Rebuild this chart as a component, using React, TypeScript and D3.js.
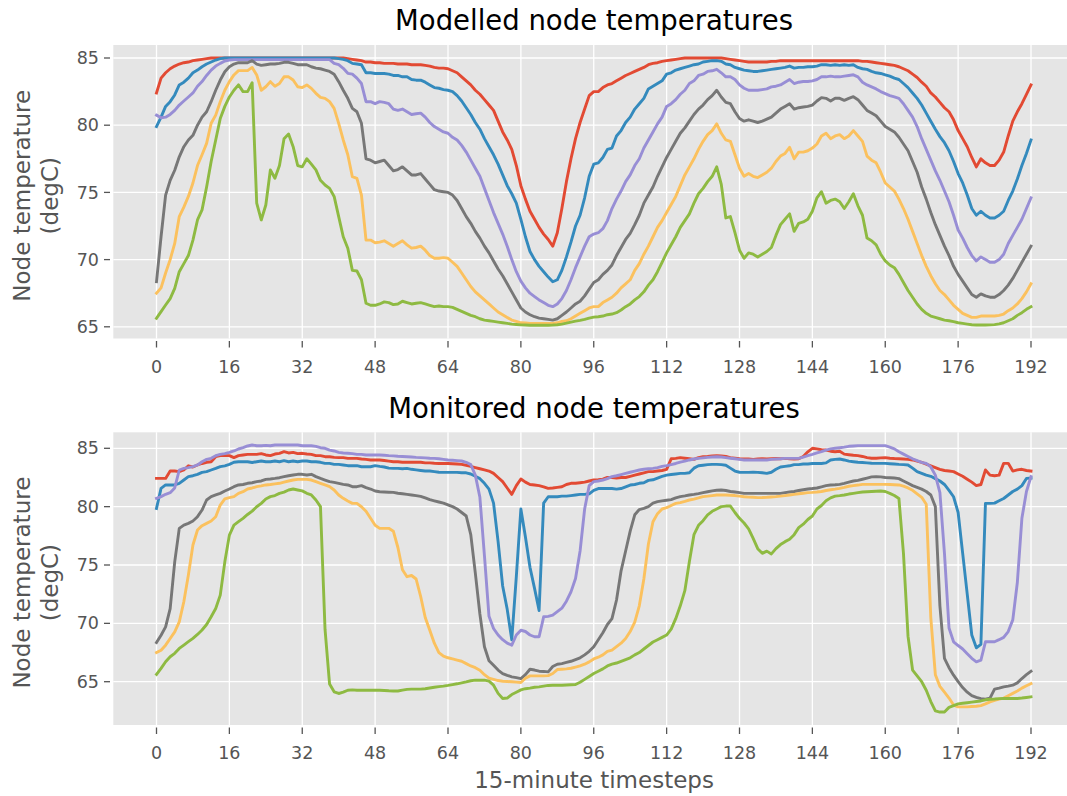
import React from "react";
import * as d3 from "d3";

// ---------- data ----------
const xTickValues = [0, 16, 32, 48, 64, 80, 96, 112, 128, 144, 160, 176, 192];
const yTickValues = [65, 70, 75, 80, 85];
const seriesColors = ["#E24A33", "#348ABD", "#988ED5", "#777777", "#FBC15E", "#8EBA42"];
const panelTitles = ["Modelled node temperatures", "Monitored node temperatures"];
const yLabelLines = ["Node temperature", "(degC)"];
const xLabelText = "15-minute timesteps";

// Modelled (top panel)
const modelledRed = [
  82.4, 83.5, 83.9, 84.2, 84.4, 84.55, 84.65, 84.7, 84.8, 84.85,
  84.9, 84.95, 85, 85, 85, 85, 85, 85, 85, 85,
  85, 85, 85, 85, 85, 85, 85, 85, 85, 85,
  85, 85, 85, 85, 85, 85, 85, 85, 85, 85,
  85, 85, 84.95, 84.9, 84.85, 84.8, 84.7, 84.7, 84.65, 84.65,
  84.6, 84.6, 84.6, 84.55, 84.55, 84.55, 84.5, 84.5, 84.5, 84.45,
  84.4, 84.3, 84.25, 84.25, 84.2, 84.05, 83.9, 83.6, 83.3, 83.0,
  82.6, 82.3, 81.9, 81.5, 81.1, 80.3, 79.5, 78.9, 78.2, 77.0,
  75.5, 74.5, 73.6, 73.0, 72.4, 71.9, 71.5, 71.0, 72.0, 73.8,
  75.8, 77.5, 79.0, 80.2, 81.2, 82.2, 82.5, 82.5, 82.8, 83.0,
  83.1, 83.3, 83.5, 83.7, 83.85, 84.0, 84.15, 84.3, 84.5, 84.6,
  84.65, 84.75, 84.8, 84.85, 84.9, 84.95, 85, 85, 85, 85,
  85, 85, 85, 85, 85, 84.95, 84.9, 84.85, 84.8, 84.75,
  84.7, 84.7, 84.7, 84.7, 84.7, 84.75, 84.75, 84.8, 84.8, 84.8,
  84.8, 84.8, 84.8, 84.8, 84.8, 84.8, 84.8, 84.8, 84.8, 84.8,
  84.8, 84.8, 84.8, 84.8, 84.8, 84.75, 84.75, 84.7, 84.65, 84.6,
  84.55, 84.5, 84.45, 84.35, 84.2, 84.05, 83.8, 83.55, 83.2, 82.9,
  82.4, 82.1, 81.7, 81.3, 81.0, 80.4, 79.6, 79.0, 78.4, 77.6,
  76.9, 77.5, 77.2, 77.0, 77.0, 77.4, 78.0, 79.2, 80.3, 81.0,
  81.6, 82.3, 83.0,
];
const modelledBlue = [
  79.9, 80.6, 81.4, 81.75, 82.25, 83.0, 83.2, 83.5, 83.9, 84.1,
  84.35, 84.55, 84.7, 84.85, 84.95, 85, 85, 85, 85, 85,
  85, 85, 85, 85, 85, 85, 85, 85, 85, 85,
  85, 85, 85, 85, 85, 85, 85, 85, 85, 85,
  84.95, 84.9, 84.8, 84.6, 84.55, 84.5, 83.9, 83.9, 83.85, 83.85,
  83.85, 83.8, 83.7, 83.7, 83.6, 83.6, 83.4, 83.35, 83.35, 83.2,
  83.0, 82.8, 82.75, 82.65, 82.6, 82.5, 82.2, 81.8, 81.3, 80.8,
  80.2, 79.7, 79.0, 78.4, 77.8, 77.1, 76.3, 75.5, 74.9, 74.2,
  73.0, 71.7, 70.6, 70.0, 69.5, 69.1, 68.7, 68.35, 68.5, 69.2,
  70.2, 71.3, 72.5, 73.3, 74.6, 76.2, 77.1, 77.2, 77.6, 78.2,
  78.3, 79.2, 79.6, 80.2, 80.6, 81.2, 81.6, 82.0, 82.7, 82.9,
  83.1, 83.3, 83.8, 83.9, 84.1, 84.2, 84.3, 84.4, 84.5, 84.55,
  84.7, 84.75, 84.8, 84.8, 84.75, 84.55, 84.5, 84.3, 84.2, 84.1,
  84.05, 84.0, 84.0, 84.05, 84.1, 84.15, 84.2, 84.25, 84.3, 84.4,
  84.25, 84.3, 84.3, 84.35, 84.35, 84.4, 84.5, 84.5, 84.45, 84.5,
  84.45, 84.5, 84.45, 84.5, 84.3, 84.2, 84.15, 84.0, 83.9, 83.85,
  83.75, 83.65, 83.5, 83.4, 83.1, 82.8, 82.4, 82.0, 81.5, 80.9,
  80.3, 79.7, 79.15, 78.7, 78.1, 77.3, 76.4, 75.7, 74.8, 73.8,
  73.3, 73.6, 73.3, 73.1, 73.1, 73.3, 73.6, 74.4, 75.1, 76.0,
  77.0, 77.9, 78.9,
];
const modelledPurple = [
  80.75, 80.55, 80.6, 80.8, 81.1, 81.5, 81.8, 82.1, 82.4, 82.9,
  83.25, 83.7, 84.1, 84.4, 84.6, 84.78, 84.85, 84.88, 84.88, 84.88,
  84.88, 84.88, 84.88, 84.88, 84.88, 84.88, 84.88, 84.88, 84.88, 84.88,
  84.88, 84.88, 84.88, 84.88, 84.88, 84.88, 84.88, 84.88, 84.88, 84.6,
  84.5, 84.23, 83.86, 83.8, 83.5, 83.1, 81.75, 81.75, 81.6, 81.75,
  81.7, 81.6, 81.2, 81.1, 81.2, 81.0, 80.8, 80.85, 80.9, 80.6,
  80.2, 79.9, 79.7, 79.5, 79.4, 79.1, 78.9, 78.5, 78.0, 77.4,
  76.8, 76.2, 75.3, 74.4, 73.5, 72.7, 71.9, 71.0, 70.0, 69.1,
  68.4, 67.9, 67.5, 67.25, 67.0, 66.8, 66.6, 66.5, 66.7, 67.1,
  67.7, 68.5, 69.4, 70.2, 71.0, 71.7, 71.9, 72.0, 72.3, 72.9,
  73.8, 74.5, 75.1, 75.8, 76.3, 77.0, 77.5, 78.3, 78.9, 79.5,
  80.1, 80.6, 81.4, 81.6, 81.9, 82.3, 82.6, 83.1, 83.3, 83.7,
  83.8, 84.0, 84.05, 84.16, 83.9, 83.6, 83.6, 83.4, 83.0, 82.75,
  82.6, 82.6, 82.6, 82.65, 82.7, 82.85, 82.9, 83.0, 83.2, 83.4,
  83.1, 83.2, 83.25, 83.25, 83.3, 83.4, 83.6, 83.6, 83.65, 83.6,
  83.6, 83.65, 83.7, 83.75, 83.6, 83.2, 83.0, 82.85, 82.7, 82.5,
  82.35, 82.2, 82.1, 82.0, 81.6, 81.1, 80.6, 79.9, 79.0, 78.2,
  77.4, 76.6, 75.9, 75.1, 74.3, 73.3, 72.2, 71.6, 70.9, 70.3,
  69.9, 70.2, 70.0, 69.8, 69.8, 70.0, 70.4, 71.2, 71.8, 72.4,
  73.0, 73.8, 74.6,
];
const modelledGray = [
  68.35, 71.7, 74.8, 75.9, 76.65, 77.65, 78.4, 78.9, 79.25, 80.0,
  80.6, 81.0, 81.75, 82.6, 83.36, 83.98, 84.35, 84.55, 84.65, 84.65,
  84.65, 84.8, 84.55, 84.45, 84.5, 84.55, 84.55, 84.6, 84.68, 84.68,
  84.6, 84.5, 84.5, 84.5, 84.35, 84.25, 84.2, 84.1, 84.0, 83.8,
  83.24, 82.6, 82.0, 81.25, 81.0, 80.14, 77.5, 77.4, 77.2, 77.3,
  77.4, 77.0, 76.6, 76.7, 76.9, 76.6, 76.3, 76.3, 76.4, 76.0,
  75.6, 75.2, 75.1, 75.05, 75.0, 74.8, 74.4, 73.8, 73.2, 72.7,
  72.1, 71.6, 71.0, 70.5, 69.9, 69.3, 68.8, 68.2, 67.6, 67.0,
  66.4, 66.1, 65.9, 65.75, 65.65, 65.6, 65.55, 65.5, 65.6, 65.85,
  66.1, 66.4, 66.7, 66.9, 67.3, 67.8, 68.3, 68.5, 68.9, 69.2,
  69.6, 70.3, 70.9, 71.5, 71.95, 72.6, 73.3, 74.2, 74.8, 75.4,
  76.2, 76.9, 77.6, 78.2, 78.8, 79.4, 79.8, 80.3, 80.8, 81.2,
  81.5, 81.9, 82.2, 82.6, 82.1, 81.7, 81.6, 81.0, 80.5, 80.3,
  80.4, 80.3, 80.2, 80.3, 80.45, 80.6, 80.9, 81.2, 81.4, 81.6,
  81.2, 81.3, 81.35, 81.4, 81.5, 81.8, 82.05, 82.0, 81.8, 82.0,
  82.0, 81.85, 82.0, 82.12, 81.9, 81.5, 81.1, 80.9, 80.7, 80.3,
  79.9, 79.7, 79.5, 79.1, 78.6, 78.1, 77.3, 76.5, 75.4, 74.5,
  73.5, 72.6, 71.8, 71.0, 70.3, 69.5, 68.9, 68.4, 67.9, 67.4,
  67.2, 67.45, 67.3, 67.2, 67.2, 67.4, 67.7, 68.1, 68.6, 69.2,
  69.8, 70.4, 71.0,
];
const modelledYellow = [
  67.5, 67.9, 69.0, 70.0, 71.2, 73.2, 73.9, 74.7, 75.7, 77.0,
  77.8, 78.65, 80.14, 80.75, 81.75, 82.6, 83.24, 83.74, 84.06, 84.06,
  84.06, 84.3, 83.74, 82.6, 82.86, 83.24, 82.9, 83.1, 83.6, 83.6,
  83.36, 82.86, 82.8, 83.0, 82.74, 82.37, 82.07, 82.0, 81.75, 81.25,
  80.14, 78.9, 77.8, 76.17, 76.05, 74.8, 71.45, 71.45, 71.25, 71.3,
  71.4, 71.2, 71.0, 71.2, 71.4, 71.1, 70.85, 70.9, 71.0, 70.7,
  70.3, 70.1, 70.1, 70.15, 70.1, 69.8, 69.5, 69.0, 68.5, 68.0,
  67.6, 67.3, 67.0, 66.7, 66.4, 66.1, 65.9, 65.7, 65.5, 65.4,
  65.3, 65.28, 65.25, 65.25, 65.25, 65.25, 65.25, 65.25, 65.3, 65.4,
  65.45, 65.6, 65.8, 66.0, 66.2, 66.4, 66.5, 66.5, 66.8, 67.0,
  67.2, 67.5, 67.9, 68.2, 68.5, 69.2, 69.7, 70.4, 71.0, 71.7,
  72.4, 72.9, 73.5, 74.1, 74.7, 75.5, 76.3, 76.9, 77.5, 78.2,
  78.8, 79.3, 79.6, 80.1, 79.4, 78.9, 78.8, 77.8, 76.8, 76.2,
  76.4, 76.2, 76.1, 76.3, 76.5, 76.8, 77.3, 77.7, 77.9, 78.35,
  77.5, 78.0, 78.0, 78.1, 78.3, 78.6, 79.2, 79.4, 79.0, 79.2,
  79.3, 79.0, 79.2, 79.6, 79.2, 78.8, 77.7, 77.4, 77.2, 76.5,
  75.7, 75.4, 75.1, 74.5, 73.8, 73.0, 72.1, 71.2, 70.3, 69.5,
  68.8, 68.2, 67.7, 67.4, 67.0, 66.6, 66.3, 66.0, 65.85, 65.7,
  65.7, 65.8, 65.8, 65.8, 65.8, 65.85, 65.95, 66.2, 66.4, 66.7,
  67.1, 67.6, 68.2,
];
const modelledGreen = [
  65.63, 66.13, 66.62, 67.1, 67.86, 69.1, 69.7, 70.3, 71.45, 72.95,
  73.7, 75.4, 77.3, 78.9, 80.5, 81.4, 82.1, 82.6, 83.0, 82.5,
  82.5, 83.16, 74.2, 72.95, 74.06, 76.67, 76.05, 77.0, 79.0, 79.35,
  78.4, 77.0, 76.9, 77.5, 77.1, 76.67, 75.9, 75.55, 75.3, 74.7,
  73.2, 71.7, 70.85, 69.2, 69.15, 68.5, 66.75, 66.6, 66.6, 66.7,
  66.85, 66.8, 66.65, 66.7, 66.9, 66.8, 66.7, 66.75, 66.8, 66.7,
  66.6, 66.5, 66.55, 66.5, 66.5, 66.45, 66.3, 66.15, 66.0, 65.85,
  65.75, 65.6, 65.5, 65.45, 65.4, 65.35, 65.3, 65.25, 65.2, 65.17,
  65.14, 65.13, 65.12, 65.12, 65.12, 65.12, 65.12, 65.13, 65.15, 65.2,
  65.27, 65.35, 65.42, 65.48, 65.55, 65.65, 65.72, 65.75, 65.8, 65.9,
  65.95, 66.05, 66.25, 66.5, 66.7, 67.0, 67.25, 67.6, 68.1, 68.5,
  69.1, 69.8, 70.5, 71.1, 71.7, 72.4, 72.9, 73.4, 74.2, 74.9,
  75.3, 75.8, 76.2, 76.9, 75.6, 73.1, 73.2, 72.0, 70.7, 70.1,
  70.5, 70.4, 70.2, 70.4, 70.6, 70.9, 71.8, 72.6, 73.0, 73.4,
  72.1, 72.7, 72.8, 73.0, 73.6, 74.6, 75.05, 74.2, 74.4, 74.5,
  74.3, 73.8, 74.3, 74.9, 74.0, 73.3, 71.6, 71.4, 71.1, 70.4,
  69.9, 69.6, 69.4, 68.9, 68.3, 67.7, 67.2, 66.7, 66.3, 66.0,
  65.8, 65.7, 65.6, 65.5, 65.45, 65.38, 65.3, 65.25, 65.2, 65.15,
  65.13, 65.13, 65.13, 65.14, 65.16, 65.22, 65.3, 65.45, 65.6, 65.85,
  66.05, 66.3, 66.5,
];

// Monitored (bottom panel)
const monitoredRed = [
  82.42, 82.42, 82.42, 83.05, 83.05, 83.0, 83.14, 83.5, 83.4, 83.57,
  83.7, 83.8, 83.85, 84.28, 84.37, 84.37, 84.37, 84.2, 84.37, 84.43,
  84.48, 84.48, 84.48, 84.54, 84.43, 84.37, 84.51, 84.57, 84.71, 84.6,
  84.65, 84.54, 84.57, 84.51, 84.48, 84.37, 84.37, 84.28, 84.28, 84.22,
  84.2, 84.2, 84.14, 84.14, 84.14, 84.08, 84.05, 84.0, 84.0, 84.0,
  83.95, 83.9, 83.85, 83.85, 83.8, 83.8, 83.8, 83.8, 83.8, 83.75,
  83.75, 83.72, 83.7, 83.7, 83.7, 83.68, 83.65, 83.62, 83.55, 83.45,
  83.35, 83.25, 83.15, 83.05, 82.85, 82.5, 82.14, 81.6, 81.05, 81.8,
  82.37, 82.1, 81.9, 81.85, 81.8, 81.7, 81.57, 81.6, 81.65, 81.7,
  81.9, 82.0, 82.0, 82.05, 82.1, 82.2, 82.28, 82.3, 82.35, 82.5,
  82.5, 82.45, 82.5, 82.5, 82.6, 82.7, 82.8, 82.9, 83.0, 83.0,
  83.05, 83.1, 83.2, 84.1, 84.14, 84.2, 84.15, 84.1, 84.05, 84.2,
  84.28, 84.3, 84.35, 84.37, 84.35, 84.3, 84.2, 84.15, 84.1, 84.08,
  84.08, 84.05, 84.08, 84.1, 84.08, 84.1, 84.12, 84.1, 84.14, 84.1,
  84.08, 84.1, 84.3, 84.7, 85.0, 84.95, 84.88, 84.85, 84.75, 84.7,
  84.75, 84.5, 84.45, 84.4, 84.37, 84.3, 84.2, 84.15, 84.15, 84.18,
  84.2, 84.15, 84.12, 84.1, 84.08, 84.05, 84.0, 83.9, 83.8, 83.65,
  83.5, 83.35, 83.2, 83.1, 83.05, 83.0, 82.8, 82.6, 82.35, 82.1,
  81.8, 81.9, 83.14, 82.7, 82.65, 82.7, 83.71, 83.71, 83.05, 83.15,
  83.2, 83.1, 83.05,
];
const monitoredBlue = [
  79.85, 81.57, 81.86, 81.86, 81.86, 82.0, 82.28, 82.57, 82.65, 82.77,
  82.94, 83.0, 83.14, 83.28, 83.43, 83.5, 83.62, 83.8, 83.85, 83.85,
  83.85, 83.78, 83.85, 83.91, 83.85, 83.85, 83.91, 83.85, 83.94, 83.85,
  83.91, 83.85, 83.91, 83.91, 83.85, 83.85, 83.8, 83.71, 83.71, 83.62,
  83.62, 83.57, 83.51, 83.51, 83.51, 83.42, 83.42, 83.42, 83.51, 83.45,
  83.4, 83.3, 83.28, 83.28, 83.25, 83.28, 83.2, 83.15, 83.1, 83.05,
  83.05, 83.0, 82.95, 82.94, 82.94, 82.94, 82.94, 82.9, 82.9, 82.8,
  82.6, 82.4, 82.0, 81.5, 80.3, 77.0, 73.2, 71.2, 68.6, 74.0,
  79.8, 77.4, 74.8, 73.0, 71.1, 80.3, 80.85, 80.85, 80.85, 80.9,
  80.9, 80.95, 81.0, 81.05, 81.05, 81.1, 81.4, 81.55, 81.55, 81.55,
  81.55, 81.5, 81.55, 81.7, 81.85, 81.9, 82.0, 82.05, 82.25, 82.3,
  82.45, 82.6, 82.7, 82.75, 82.8, 82.85, 82.85, 82.9, 83.3, 83.5,
  83.55, 83.6, 83.62, 83.62, 83.6, 83.55, 83.3, 83.05, 82.95, 82.94,
  82.94, 82.96, 82.94, 82.9, 82.85, 82.95, 83.2, 83.4, 83.45, 83.5,
  83.6, 83.6, 83.65, 83.65, 83.7, 83.7, 83.7, 83.75, 84.0, 84.05,
  84.08, 84.0, 83.9, 83.85, 83.8, 83.78, 83.75, 83.72, 83.71, 83.71,
  83.71, 83.68, 83.65, 83.62, 83.6, 83.57, 83.3, 83.0, 82.85, 82.7,
  82.6, 82.4, 82.2, 81.9, 81.4, 80.85, 79.5, 76.0, 72.5, 69.0,
  67.9, 68.2, 80.28, 80.28, 80.3, 80.5, 80.7, 81.0, 81.3, 81.5,
  81.8, 82.42, 82.45,
];
const monitoredPurple = [
  80.71, 80.86, 81.06, 81.2, 81.6, 83.14, 83.28, 83.35, 83.43, 83.57,
  83.85, 84.05, 84.14, 84.37, 84.48, 84.54, 84.65, 84.77, 84.94, 85.05,
  85.2, 85.28, 85.22, 85.22, 85.25, 85.22, 85.28, 85.28, 85.28, 85.28,
  85.28, 85.28, 85.22, 85.22, 85.22, 85.17, 85.05, 85.0, 84.85, 84.77,
  84.65, 84.6, 84.57, 84.54, 84.48, 84.48, 84.43, 84.43, 84.43, 84.43,
  84.4, 84.37, 84.35, 84.32, 84.3, 84.28, 84.25, 84.22, 84.2, 84.18,
  84.15, 84.14, 84.1, 84.05, 84.0, 83.97, 83.94, 83.91, 83.8, 83.6,
  82.7, 80.8, 75.8, 70.6, 69.56, 69.0, 68.6, 68.3, 68.13, 69.0,
  69.41, 69.3, 69.0, 68.85, 68.85, 70.56, 70.6, 70.7, 71.0, 71.3,
  71.9, 72.7, 73.85, 76.2, 79.8, 81.8, 82.14, 82.2, 82.28, 82.4,
  82.57, 82.65, 82.75, 82.85, 82.95, 83.05, 83.14, 83.2, 83.25, 83.28,
  83.35, 83.45, 83.51, 83.6, 83.7, 83.82, 83.9, 84.0, 84.08, 84.14,
  84.18, 84.22, 84.25, 84.28, 84.25, 84.2, 84.15, 84.1, 84.05, 84.0,
  84.0, 84.0, 84.0, 84.0, 84.0, 84.05, 84.08, 84.1, 84.14, 84.14,
  84.14, 84.14, 84.25, 84.38, 84.48, 84.6, 84.72, 84.85, 84.95, 85.0,
  85.05, 85.1, 85.17, 85.2, 85.23, 85.23, 85.23, 85.23, 85.23, 85.23,
  85.23, 85.1, 84.95, 84.7, 84.5, 84.3, 84.1, 83.95, 83.8, 83.7,
  83.4, 82.7, 81.2, 76.0, 69.6, 68.42, 68.1, 67.8, 67.4, 67.0,
  66.7, 66.84, 68.42, 68.42, 68.42, 68.6, 68.8, 69.3, 70.3, 73.5,
  79.0, 81.3, 82.57,
];
const monitoredGray = [
  68.36, 68.98, 69.7, 71.27, 75.27, 78.14, 78.42, 78.57, 78.77, 79.14,
  79.71, 80.57, 80.86, 81.0, 81.14, 81.34, 81.51, 81.71, 81.86, 81.9,
  82.0, 82.05, 82.14, 82.2, 82.34, 82.37, 82.42, 82.48, 82.57, 82.65,
  82.71, 82.77, 82.77, 82.71, 82.77, 82.57, 82.42, 82.28, 82.14, 82.08,
  82.0, 81.91, 81.86, 81.71, 81.71, 81.8, 81.63, 81.51, 81.34, 81.28,
  81.26, 81.24, 81.22, 81.15, 81.1, 81.05, 81.0, 80.95, 80.88, 80.75,
  80.6, 80.5, 80.4, 80.3, 80.15, 80.0, 79.8, 79.5, 79.2, 77.6,
  74.3, 70.8, 68.0, 66.8, 66.41, 66.0, 65.7, 65.55, 65.41, 65.35,
  65.27, 65.6, 66.07, 66.0, 65.9, 65.88, 65.84, 66.3, 66.5, 66.55,
  66.65, 66.75, 66.9, 67.05, 67.3, 67.6, 68.0, 68.6, 69.2, 69.9,
  70.4, 72.0, 74.5, 76.2, 77.9, 79.3, 79.75, 79.85, 80.0, 80.3,
  80.43, 80.5, 80.55, 80.6, 80.75, 80.86, 80.92, 81.0, 81.05, 81.12,
  81.2, 81.28, 81.35, 81.4, 81.43, 81.38, 81.3, 81.25, 81.2, 81.14,
  81.14, 81.14, 81.14, 81.14, 81.14, 81.14, 81.14, 81.14, 81.2, 81.25,
  81.3, 81.38, 81.45, 81.51, 81.55, 81.6, 81.7, 81.8, 81.86, 81.88,
  81.91, 82.0, 82.1, 82.2, 82.25, 82.35, 82.45, 82.55, 82.57, 82.55,
  82.5, 82.48, 82.45, 82.4, 82.2, 82.0, 81.8, 81.65, 81.5, 81.3,
  81.0, 80.0, 71.5, 67.0, 66.2, 65.56, 65.0, 64.5, 64.1, 63.8,
  63.65, 63.55, 63.5, 63.6, 64.36, 64.45, 64.56, 64.62, 64.7, 64.9,
  65.27, 65.6, 65.9,
];
const monitoredYellow = [
  67.5, 67.7, 68.13, 68.7, 69.27, 70.13, 71.85, 74.14, 76.71, 78.0,
  78.37, 78.57, 78.77, 79.14, 80.14, 80.66, 80.77, 80.86, 81.14, 81.28,
  81.51, 81.6, 81.71, 81.78, 81.86, 81.9, 81.95, 82.0, 82.1, 82.2,
  82.28, 82.34, 82.34, 82.34, 82.28, 82.14, 82.0, 81.86, 81.71, 81.43,
  81.0, 80.71, 80.48, 80.28, 80.28, 79.99, 79.6, 79.0, 78.4, 78.14,
  78.14, 78.14, 77.9, 76.5, 74.6, 74.0, 74.1, 73.8, 72.3, 70.5,
  69.4, 68.3, 67.5, 67.2, 67.05, 66.95, 66.85, 66.75, 66.55, 66.35,
  66.2, 65.98, 65.6, 65.3, 65.2, 65.1, 65.04, 65.02, 64.99, 64.96,
  64.93, 65.3, 65.5, 65.5, 65.5, 65.5, 65.52, 65.7, 66.04, 66.07,
  66.1, 66.15, 66.25, 66.35, 66.5, 66.7, 66.95, 67.1, 67.3, 67.6,
  67.7, 68.0, 68.3, 68.7, 69.3, 70.1, 71.5, 73.8, 76.8, 78.7,
  79.4, 79.8, 79.91, 80.1, 80.28, 80.35, 80.45, 80.57, 80.65, 80.75,
  80.86, 80.9, 80.95, 81.0, 81.0, 81.0, 80.98, 80.95, 80.9, 80.85,
  80.82, 80.8, 80.77, 80.78, 80.8, 80.83, 80.86, 80.9, 80.95, 81.0,
  81.05, 81.1, 81.15, 81.2, 81.22, 81.25, 81.3, 81.38, 81.45, 81.5,
  81.57, 81.65, 81.75, 81.8, 81.85, 81.91, 81.91, 81.91, 81.91, 81.91,
  81.91, 81.9, 81.88, 81.86, 81.75, 81.6, 81.4, 81.1, 80.8, 80.2,
  70.5, 65.6, 64.6, 64.1, 63.6, 63.0, 62.84, 62.84, 62.84, 62.88,
  62.9, 62.95, 63.1, 63.27, 63.4, 63.5, 63.6, 63.8, 64.0, 64.2,
  64.45, 64.65, 64.84,
];
const monitoredGreen = [
  65.63, 66.14, 66.71, 67.14, 67.43, 67.85, 68.14, 68.43, 68.71, 69.05,
  69.43, 69.9, 70.56, 71.27, 72.42, 75.27, 77.56, 78.42, 78.71, 79.0,
  79.33, 79.62, 79.99, 80.28, 80.66, 80.86, 80.95, 81.14, 81.25, 81.43,
  81.51, 81.43, 81.35, 81.14, 81.0, 80.57, 80.0, 69.5, 64.8, 64.13,
  63.99, 64.1, 64.27, 64.3, 64.27, 64.27, 64.27, 64.27, 64.27, 64.27,
  64.25, 64.22, 64.2, 64.2, 64.28, 64.34, 64.36, 64.36, 64.36, 64.4,
  64.46, 64.52, 64.58, 64.62, 64.68, 64.75, 64.82, 64.9, 64.98, 65.08,
  65.13, 65.13, 65.13, 65.05, 64.7, 64.0, 63.56, 63.6, 63.9, 64.1,
  64.3, 64.4, 64.45, 64.52, 64.56, 64.62, 64.68, 64.7, 64.7, 64.7,
  64.72, 64.74, 64.76, 64.95, 65.2, 65.45, 65.7, 65.9, 66.1, 66.35,
  66.5, 66.6, 66.75, 66.9, 67.05, 67.3, 67.5, 67.8, 68.1, 68.4,
  68.6, 68.8, 69.0, 69.5, 70.4, 71.5, 72.8, 75.3, 77.6, 78.4,
  78.8, 79.3, 79.6, 79.8, 80.0, 80.05, 80.05, 79.5, 79.0, 78.6,
  78.1, 77.28, 76.4, 76.0, 76.19, 75.95, 76.4, 76.75, 77.0, 77.2,
  77.6, 78.2, 78.5, 78.9, 79.2, 79.8, 80.1, 80.5, 80.75, 80.9,
  80.94, 81.0, 81.08, 81.14, 81.2, 81.25, 81.28, 81.3, 81.32, 81.34,
  81.3, 81.14, 80.95, 80.7, 76.0, 68.9, 66.0, 65.5, 65.0, 64.27,
  63.3, 62.5, 62.4, 62.4, 62.8, 62.95, 63.1, 63.15, 63.2, 63.25,
  63.3, 63.35, 63.45, 63.5, 63.52, 63.55, 63.56, 63.56, 63.56, 63.56,
  63.6, 63.65, 63.7,
];

const modelledSeries = [modelledRed, modelledBlue, modelledPurple, modelledGray, modelledYellow, modelledGreen];
const monitoredSeries = [monitoredRed, monitoredBlue, monitoredPurple, monitoredGray, monitoredYellow, monitoredGreen];

// ---------- layout ----------
const W = 1067;
const H = 796;
const FONT = "DejaVu Sans, Liberation Sans, sans-serif";
const axLeft = 113.3;
const axRight = 1074.8;

const xScale = d3.scaleLinear().domain([0, 192]).range([156.5, 1031]);

const panels = [
  { top: 45, bottom: 338.5, yAt65: 326.8, yAt85: 58, title: panelTitles[0], series: modelledSeries, showXLabel: false },
  { top: 432.3, bottom: 725, yAt65: 681.7, yAt85: 448.3, title: panelTitles[1], series: monitoredSeries, showXLabel: true },
];

function Panel({ p }: { p: any }) {
  const yScale = d3.scaleLinear().domain([65, 85]).range([p.yAt65, p.yAt85]);
  const line = d3
    .line<number>()
    .x((_, i) => xScale(i))
    .y((d) => yScale(d));
  const midY = (p.top + p.bottom) / 2;
  const midX = (axLeft + axRight) / 2;
  const clipId = `clip-${Math.round(p.top)}`;
  return (
    <g>
      <rect x={axLeft} y={p.top} width={axRight - axLeft} height={p.bottom - p.top} fill="#E5E5E5" />
      <clipPath id={clipId}>
        <rect x={axLeft} y={p.top} width={axRight - axLeft} height={p.bottom - p.top} />
      </clipPath>
      {xTickValues.map((t) => (
        <line key={`gx${t}`} x1={xScale(t)} x2={xScale(t)} y1={p.top} y2={p.bottom} stroke="#FFFFFF" strokeWidth={1.3} />
      ))}
      {yTickValues.map((t) => (
        <line key={`gy${t}`} x1={axLeft} x2={axRight} y1={yScale(t)} y2={yScale(t)} stroke="#FFFFFF" strokeWidth={1.3} />
      ))}
      <g clipPath={`url(#${clipId})`}>
        {p.series.map((s: number[], k: number) => (
          <path
            key={k}
            d={line(s) || ""}
            fill="none"
            stroke={seriesColors[k]}
            strokeWidth={2.9}
            strokeLinejoin="round"
            strokeLinecap="square"
          />
        ))}
      </g>
      {xTickValues.map((t) => (
        <g key={`tx${t}`}>
          <line x1={xScale(t)} x2={xScale(t)} y1={p.bottom + 2.5} y2={p.bottom + 9} stroke="#555555" strokeWidth={1.3} />
          <text x={xScale(t)} y={p.bottom + 34} textAnchor="middle" fontSize={17.5} fill="#555555" fontFamily={FONT}>
            {t}
          </text>
        </g>
      ))}
      {yTickValues.map((t) => (
        <g key={`ty${t}`}>
          <line x1={104} x2={110} y1={yScale(t)} y2={yScale(t)} stroke="#555555" strokeWidth={1.3} />
          <text x={99} y={yScale(t)} dy="0.35em" textAnchor="end" fontSize={17.5} fill="#555555" fontFamily={FONT}>
            {t}
          </text>
        </g>
      ))}
      <text x={midX} y={p.top - 14.6} textAnchor="middle" fontSize={27.5} fill="#000000" fontFamily={FONT}>
        {p.title}
      </text>
      <g transform={`translate(22,${midY + 4}) rotate(-90)`}>
        <text x={0} y={0} dy="0.35em" textAnchor="middle" fontSize={23} fill="#555555" fontFamily={FONT}>
          {yLabelLines[0]}
        </text>
      </g>
      <g transform={`translate(50,${midY + 4}) rotate(-90)`}>
        <text x={0} y={0} dy="0.35em" textAnchor="middle" fontSize={23} fill="#555555" fontFamily={FONT}>
          {yLabelLines[1]}
        </text>
      </g>
      {p.showXLabel && (
        <text x={midX} y={788} textAnchor="middle" fontSize={23} fill="#555555" fontFamily={FONT}>
          {xLabelText}
        </text>
      )}
    </g>
  );
}

export default function App() {
  return (
    <svg
      width={W}
      height={H}
      viewBox={`0 0 ${W} ${H}`}
      style={{ position: "absolute", left: 0, top: 0, background: "#FFFFFF" }}
    >
      <rect x={0} y={0} width={W} height={H} fill="#FFFFFF" />
      {panels.map((p, i) => (
        <Panel key={i} p={p} />
      ))}
    </svg>
  );
}
